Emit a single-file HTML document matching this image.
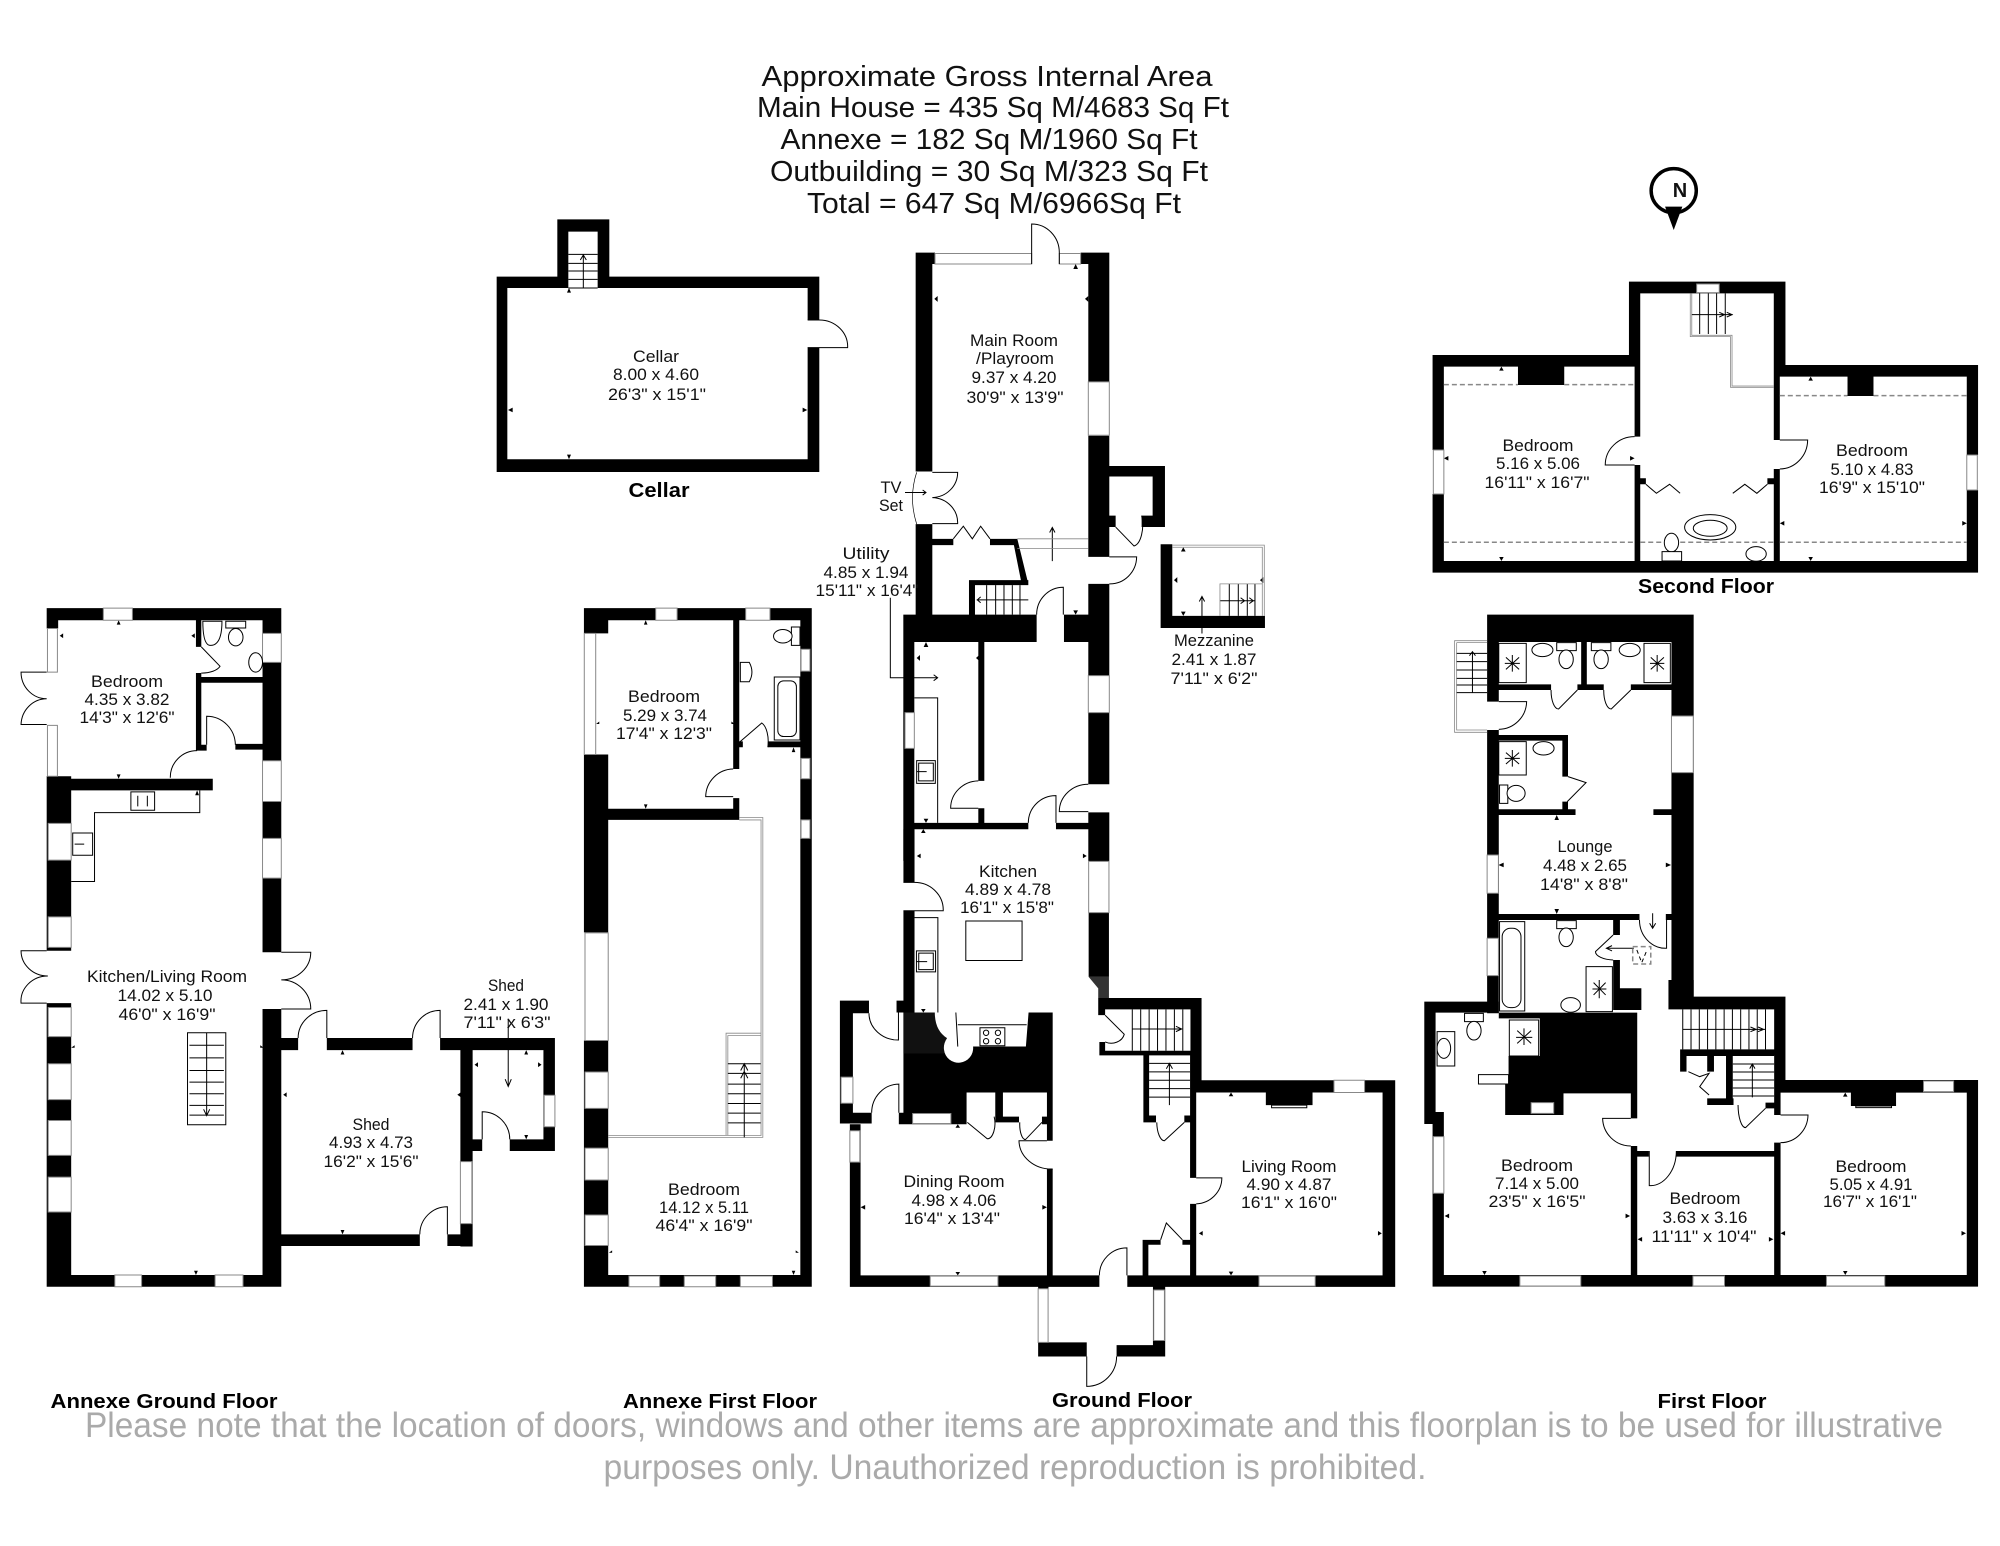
<!DOCTYPE html>
<html><head><meta charset="utf-8"><style>
html,body{margin:0;padding:0;background:#fff}
svg{display:block}
.k{fill:#000}
.w{fill:#fff;stroke:#888;stroke-width:1;vector-effect:non-scaling-stroke}
.l{fill:none;stroke:#000;stroke-width:1;vector-effect:non-scaling-stroke}
.g{fill:none;stroke:#888;stroke-width:.8;vector-effect:non-scaling-stroke}
.d{fill:none;stroke:#888;stroke-width:1.5;stroke-dasharray:5 3;vector-effect:non-scaling-stroke}
.f{fill:#fff;stroke:#000;stroke-width:1;vector-effect:non-scaling-stroke}
text{font-family:"Liberation Sans",sans-serif;text-anchor:middle;fill:#111;font-size:16.5px}
.h{font-size:29px}
.b{font-weight:bold;font-size:20px;fill:#000}
.n{font-size:35px;fill:#aaa}
</style></head><body>
<svg width="2000" height="1546" viewBox="0 0 2000 1546" xmlns="http://www.w3.org/2000/svg">
<rect width="2000" height="1546" fill="#fff"/>

<!-- Annexe ground floor -->
<g transform="translate(0 580) scale(.3827 .4847)">
<path class="k" d="M122 58H735V83H122ZM122 58H152V100H122ZM122 405H186V765H122ZM122 873H186V1458H122ZM122 1434H735V1458H122ZM686 58H735V768H686ZM686 885H735V1458H686ZM122 410H556V434H122ZM512 83H526V138H512ZM512 192H526V352H512ZM526 200H686V212H526ZM512 340H540V352H512ZM615 338H686V350H615ZM735 945H779V970H735ZM854 945H1078V970H854ZM1150 945H1450V970H1150ZM1203 970H1235V1375H1203ZM690 1350H1097V1374H690ZM1169 1350H1235V1374H1169ZM1420 970H1450V1178H1420ZM1332 1154H1450V1178H1332ZM1203 1154H1260V1178H1203Z"/>
<path class="k" d="M310 83l-5 9h10zM156 115l9-5v10zM500 115l9 5v-10zM310 410l-5-9h10zM515 434l-5 10h10zM195 965l-9 0 9-5zM680 965l9 0-9-5zM740 1062l9-5v10zM895 970l-5 9h10zM1195 1062l9-5v10zM895 1350l-5-9h10zM512 1434l-5-9h10zM1375 970l-5 9h10zM1375 1154l-5-9h10zM1240 1000l9-5v10zM1415 1000l-9-5v10z"/>
<path class="w" d="M270 58h76v25h-76zM124 100h26v90h-26zM124 300h26v105h-26zM126 502h60v76h-60zM126 695h60v63h-60zM686 110h49v60h-49zM686 373h49v84h-49zM686 533h49v82h-49zM126 882h60v60h-60zM126 998h60v74h-60zM126 1115h60v72h-60zM126 1232h60v72h-60zM300 1434h70v24h-70zM562 1434h73v24h-73zM1203 1200h30v128h-30zM1422 1063h28v65h-28z"/>
<path class="l" d="M122 190H55A67 55 0 0 0 122 245A67 55 0 0 0 55 298H122M122 765H55A70 52 0 0 0 125 817A70 52 0 0 0 55 873H122M735 768H812A77 57 0 0 1 735 825A77 60 0 0 1 812 885H735M854 945V888A75 57 0 0 0 779 945M1150 945V888A72 57 0 0 0 1078 945M1169 1350V1293A72 57 0 0 0 1097 1350M1260 1154V1097A72 57 0 0 1 1332 1154M515 352A70 55 0 0 0 445 408M540 340V281A75 60 0 0 1 615 340M526 138L575 178A50 20 0 0 1 526 192M186 622H247V480H522V434"/>
<path class="f" d="M342 437h62v38h-62zM190 522h52v46h-52zM490 934h100v190h-100zM590 85h52v14h-52zM530 85l50 0q0 50-30 50-20 0-20-50z"/>
<ellipse class="f" cx="616" cy="118" rx="19" ry="18"/>
<ellipse class="f" cx="668" cy="170" rx="18" ry="20"/>
<path class="l" d="M495 960H585M495 986H585M495 1012H585M495 1036H585M495 1060H585M495 1084H585M495 1104H585M540 934V1105M532 1092L540 1105L548 1092M1328 905V1045M1320 1030L1328 1045L1336 1030M360 445v22M385 445v22M195 545H220"/>
</g>

<!-- Annexe first floor -->
<g transform="translate(560 580) scale(.3571 .4847)">
<path class="k" d="M67 58H705V83H67ZM67 58H135V110H67ZM67 360H135V727H67ZM67 950H135V1458H67ZM67 1434H705V1458H67ZM673 58H705V1458H673ZM485 83H502V390H485ZM485 450H502V495H485ZM67 472H502V495H67ZM582 333H673V345H582ZM485 333H512V345H485Z"/>
<path class="k" d="M240 83l-5 9h10zM240 472l-5-9h10zM110 297l-9 0 9-5zM480 297l9 0-9-5zM146 1388l-9 0 9-5zM660 1388l9 0-9-5zM654 1434l-5-9h10zM654 345l-5 10h10z"/>
<path class="w" d="M268 58h60v25h-60zM520 58h68v25h-68zM68 110h32v250h-32zM70 728h65v222h-65zM70 1015h65v75h-65zM70 1172h65v66h-65zM70 1310h65v63h-65zM193 1436h86v22h-86zM348 1436h88v22h-88zM505 1436h90v22h-90zM675 143h25v45h-25zM675 368h25v42h-25zM675 495h25v38h-25z"/>
<path class="l" d="M485 390A78 58 0 0 0 408 447H485M502 335L565 295A25 40 0 0 1 582 345"/>
<path class="g" d="M502 490H568V1150H135M502 495H563V1146H135M465 1145V935H562M470 1145V940H562"/>
<path class="l" d="M470 998H562M470 1018H562M470 1040H562M470 1060H562M470 1080H562M470 1100H562M470 1120H562M516 1150V998M506 1012L516 998L526 1012M506 1028L516 1014L526 1028"/>
<path class="f" d="M600 200h72v130h-72z"/>
<rect class="f" x="610" y="208" width="52" height="115" rx="16" ry="12"/>
<path class="f" d="M648 97h24v38h-24z"/>
<ellipse class="f" cx="624" cy="116" rx="26" ry="14"/>
<path class="f" d="M505 170h25q15 20 0 40h-25z"/>
</g>

<!-- Ground floor upper -->
<g transform="translate(820 200) scale(.3333 .4209)">
<path class="k" d="M287 125H345V152H287ZM287 125H337V645H287ZM287 770H337V985H287ZM782 125H868V152H782ZM805 125H868V432H805ZM805 560H868V848H805ZM805 912H868V1130H805ZM805 1218H868V1388H805ZM805 1455H868V1570H805ZM250 985H650V1050H250ZM732 985H868V1050H732ZM250 1050H283V1570H250ZM475 1050H493V1380H475ZM475 1445H493V1480H475ZM250 1480H625V1495H250ZM708 1480H868V1495H708ZM337 805H400V820H337ZM510 805H590V820H510ZM578 805H592L625 912H605ZM447 903H625V915H447ZM447 903H465V985H447ZM805 632H1035V657H805ZM998 657H1035V777H998ZM965 750H1035V777H965ZM805 750H887V777H805ZM1022 818H1057V1017H1022ZM1022 988H1335V1017H1022Z"/>
<path class="k" d="M767 152l-7 12h14zM343 235l10-7v14zM795 235l10-7v14zM767 985l-7-10h14zM318 1050l-7 12h14zM290 1088l10-7v14zM468 1088l10-7v14zM318 1480l-7-10h14zM1090 825l-7 10h14zM1090 988l-7-10h14zM1062 903l10-7v14zM1320 903l10-7v14z"/>
<path class="w" d="M345 127h290v25h-290zM718 127h64v25h-64zM805 432h63v127h-63zM805 1130h63v88h-63zM255 1218h28v85h-28z"/>
<path class="l" d="M635 152V57A83 68 0 0 1 718 125V152M337 647H413A78 60 0 0 1 337 707A78 60 0 0 1 413 769H337M400 805L430 775L457 805L482 775L510 805M887 777L942 822A30 50 0 0 0 965 750M868 848H950A80 65 0 0 1 868 912M650 985A80 65 0 0 1 730 920V985M475 1380A85 65 0 0 0 392 1445H475M805 1388A87 65 0 0 0 718 1453H805M708 1480V1415A82 65 0 0 0 625 1480M697 858V778M689 790L697 778L705 790M255 695H318M308 689L318 695L308 701M211 945V1135H353M341 1128L353 1135L341 1142M283 1183H353V1480M500 915V985M527 915V985M552 915V985M577 915V985M600 915V985M470 950H625M482 943L472 950L482 957M1146 1030V942M1138 954L1146 942L1154 954M1228 912V988M1255 912V988M1282 912V988M1305 912V988M1200 952H1305M1262 945L1274 952L1262 959M1288 945L1300 952L1288 959"/>
<path d="M290 647Q265 708 290 770" fill="none" stroke="#000" stroke-width="2"/>
<path class="g" d="M592 805H805M592 828H805M1057 820H1333V988M1057 825H1327V988M1200 988V912H1328"/>
<path class="f" d="M290 1332h56v54h-56z"/>
<path class="l" d="M296 1338h44v42h-44zM290 1358H320"/>
</g>

<!-- Ground floor lower -->
<g transform="translate(820 820) scale(.3827)">
<path class="k" d="M218 24H247V163H218ZM218 237H247V475H218ZM702 0H755V108H702ZM702 242H755V410H702ZM727 465H997V495H727ZM727 465H745V510H727ZM968 465H997V680H968ZM730 603H968V615H730ZM730 580H745V615H730ZM845 615H860V785H845ZM845 772H878V790H845ZM952 772H983V790H952ZM967 615H983V935H967ZM967 1003H983V1190H967ZM968 680H1503V712H968ZM1470 680H1503V1220H1470ZM803 1190H1503V1220H803ZM78 1190H730V1220H78ZM78 795H106V1220H78ZM593 912H608V1190H593ZM593 712H608V838H593ZM218 503H300L355 503L360 592H538L545 503H608V712H218ZM218 712H383V795H206V765H218ZM458 712H478V790H458ZM458 775H520V790H458ZM580 775H608V795H580ZM52 472H128V505H52ZM52 472H86V790H52ZM52 765H135V793H52ZM200 472H247V503H200ZM843 1097H890V1110H858V1190H843ZM947 1097H983V1110H947ZM1165 712H1287V745H1165ZM570 1220H597V1402H570ZM570 1365H697V1402H570ZM775 1372H902V1402H775ZM870 1220H902V1402H870Z"/>
<path d="M702 410H755V465H727V440Z" fill="#333"/>
<path d="M218 503H300L340 570L330 610H218Z" fill="#111"/>
<path class="k" d="M270 503l-6-9h12zM360 795l-6 9h12zM106 1012l12-6v12zM593 1012l-12-6v12zM360 1190l-6-9h12zM1074 712l-6 10h12zM1074 1190l-6-10h12zM990 1080l10-6v12zM1468 1080l-10-6v12zM270 24l-6 10h12zM253 94l10-6v12zM697 94l-10-6v12z"/>
<path fill="#fff" d="M300 503H355L360 592H400A38 38 0 0 1 324 600Q322 585 332 570Q300 550 300 503Z"/>
<path class="w" d="M78 812h26v82h-26zM55 672h31v68h-31zM242 767h100v26h-100zM288 1192h177v26h-177zM1147 1192h147v26h-147zM1343 680h80v32h-80zM702 108h53v134h-53zM570 1225h26v140h-26zM872 1228h28v132h-28z"/>
<path class="l" d="M218 163H247A75 72 0 0 1 322 237H218M128 505A77 70 0 0 0 205 575V503M206 765V690A72 75 0 0 0 135 765M593 838H520A85 75 0 0 0 608 912H593M385 790L437 833A20 40 0 0 0 455 775M522 790A15 40 0 0 0 537 835L580 790M983 935H1050A70 68 0 0 1 983 1003M730 1190A72 72 0 0 1 802 1118V1190M890 1097L905 1053L947 1097M880 790A20 50 0 0 0 900 838L952 790M745 510L795 560A35 30 0 0 1 745 580M697 1402V1480A78 78 0 0 0 775 1402M247 255H308V503M355 503L360 592M360 535H540"/>
<path class="l" d="M816 495V603M838 495V603M860 495V603M882 495V603M904 495V603M926 495V603M948 495V603M816 546H945M930 539L945 546L930 553M860 636H967M860 658H967M860 680H967M860 702H967M860 724H967M913 745V636M905 650L913 636L921 650"/>
<path class="f" d="M381 264h147v103h-147zM252 342h50v55h-50zM418 543h65v47h-65z"/>
<path class="l" d="M258 348h38v43h-38zM252 370H280"/>
<circle class="l" cx="434" cy="556" r="7"/><circle class="l" cx="465" cy="556" r="7"/><circle class="l" cx="434" cy="578" r="7"/><circle class="l" cx="465" cy="578" r="7"/>
<path class="f" d="M1180 745h92v7h-92z"/>
</g>

<!-- First floor upper -->
<g transform="translate(1410 600) scale(.3762 .3333)">
<path class="k" d="M205 44H754V126H205ZM205 126H236V305H205ZM205 390H236V1240H205ZM695 126H754V1190H695ZM205 253H375V270H205ZM445 253H515V270H445ZM587 253H754V270H587ZM455 126H470V253H455ZM205 405H420V422H205ZM405 422H420V530H405ZM405 605H420V630H405ZM205 628H440V645H205ZM647 628H695V645H647ZM205 942H610V960H205ZM680 942H695V960H680ZM540 960H558V1005H540ZM540 1080H558V1170H540ZM540 1165H615V1230H540Z"/>
<path class="k" d="M390 645l-6 15h12zM390 942l-6-15h12zM235 795l14-7v14zM694 795l-14-7v14z"/>
<path class="w" d="M695 348h58v170h-58zM205 765h30v115h-30zM205 1015h30v112h-30z"/>
<path class="g" d="M118 122H205M118 397H205M118 122V397M124 128V390H205M124 128H205"/>
<path class="l" d="M124 160H205M124 185H205M124 210H205M124 235H205M124 255H205M124 278H205M166 278V155M158 167L166 155L174 167M236 305H310A75 85 0 0 1 236 388M375 270A20 55 0 0 0 395 327L445 270M515 270A20 55 0 0 0 535 327L587 270M420 530L468 548L418 605M610 960A70 85 0 0 0 682 1045V960M540 1005L493 1055A50 25 0 0 0 540 1080M645 985V940M637 970L645 985L653 970M525 1045H595M537 1037L522 1045L537 1053"/>
<path class="f" d="M236 130h73v118h-73zM622 130h70v118h-70zM236 425h73v100h-73zM468 1100h70v135h-70zM238 965h67v268h-67z"/>
<path class="l" d="M252 190L292 190M272 165V215M255 172L290 208M290 172L255 208M638 190L676 190M657 165V215M640 172L675 208M675 172L640 208M252 475H292M272 450V500M255 458L290 492M290 458L255 492M485 1167H522M503 1140V1195M488 1148L520 1185M520 1148L488 1185"/>
<rect class="l" x="245" y="985" width="50" height="238" rx="22" ry="25"/>
<path class="f" d="M390 128h52v24h-52zM482 128h52v24h-52zM390 962h52v24h-52zM238 555h22v55h-22z"/>
<ellipse class="f" cx="415" cy="178" rx="19" ry="28"/>
<ellipse class="f" cx="508" cy="178" rx="19" ry="28"/>
<ellipse class="f" cx="352" cy="150" rx="28" ry="20"/>
<ellipse class="f" cx="584" cy="150" rx="28" ry="20"/>
<ellipse class="f" cx="355" cy="445" rx="28" ry="20"/>
<ellipse class="f" cx="415" cy="1012" rx="19" ry="28"/>
<ellipse class="f" cx="282" cy="580" rx="24" ry="24"/>
<ellipse class="f" cx="427" cy="1215" rx="26" ry="22"/>
<path class="d" d="M592 1040H640V1092H592Z"/>
<path class="l" d="M603 1050L616 1088L630 1050" stroke-dasharray="4 3"/>
</g>

<!-- First floor lower -->
<g transform="translate(1410 980) scale(.3762 .3333)">
<path class="k" d="M38 65H236V98H38ZM38 65H68V430H38ZM38 396H90V432H38ZM60 430H90V920H60ZM60 885H1510V920H60ZM1480 300H1510V920H1480ZM968 300H1510V338H968ZM1172 338H1292V378H1172ZM687 50H998V88H687ZM687 0H754V50H687ZM968 88H998V300H968ZM718 208H968V228H718ZM718 228H735V275H718ZM790 228H808V275H790ZM790 355H860V375H790ZM840 228H858V375H840ZM945 368H985V385H945ZM968 338H985V405H968ZM968 488H985V885H968ZM587 498H604V885H587ZM604 513H635V530H604ZM708 513H968V530H708ZM236 98H604V115H236ZM345 115H604V228H345ZM262 228H604V310H262ZM253 310H604V340H253ZM253 340H408V405H253ZM587 340H604V415H587Z"/>
<path class="k" d="M198 885l-6-12h12zM1157 885l-6-12h12zM1157 338l-6 12h12zM92 708l12-7v14zM585 708l-12-7v14zM605 778l12-7v14zM966 778l-12-7v14zM985 760l12-7v14zM1478 760l-12-7v14z"/>
<path class="w" d="M62 470h28v170h-28zM322 368h60v32h-60zM292 888h162v30h-162zM752 888h84v30h-84zM1107 888h155v30h-155zM1365 303h80v32h-80z"/>
<path class="l" d="M587 415H512A75 85 0 0 0 587 498M985 405H1058A73 85 0 0 1 985 488M708 513A70 105 0 0 1 636 617V513M872 375A20 70 0 0 0 892 443L945 385M740 275L770 290L795 280L770 320L795 345"/>
<path class="l" d="M725 88V208M747 88V208M769 88V208M791 88V208M813 88V208M835 88V208M857 88V208M879 88V208M901 88V208M923 88V208M945 88V208M725 148H945M905 141L920 148L905 155M925 141L940 148L925 155M858 252H968M858 276H968M858 300H968M858 324H968M858 348H968M910 352V252M903 266L910 252L917 266"/>
<path class="f" d="M264 120h78v108h-78zM72 155h47v103h-47zM182 284h80v28h-80zM145 100h50v25h-50z"/>
<path class="l" d="M282 172H325M303 145V195M285 152L322 190M322 152L285 190"/>
<ellipse class="f" cx="170" cy="152" rx="19" ry="28"/>
<ellipse class="f" cx="90" cy="205" rx="18" ry="30"/>
<path class="f" d="M1185 378h95v5h-95z"/>
</g>

<!-- Second floor -->
<g transform="translate(1410 150) scale(.3762 .3333)">
<path class="k" d="M582 395H998V430H582ZM582 395H612V615H582ZM597 615H612V860H597ZM597 945H612V1235H597ZM967 395H998V645H967ZM967 645H983V870H967ZM967 957H983V1235H967ZM60 615H612V650H60ZM60 615H90V900H60ZM60 1032H90V1268H60ZM60 1233H1510V1268H60ZM967 645H1510V680H967ZM1480 645H1510V915H1480ZM1480 1020H1510V1268H1480ZM287 650H410V705H287ZM1163 680H1232V738H1163ZM605 985H627V1003H605ZM950 985H972V1003H950Z"/>
<path class="k" d="M243 650l-6 12h12zM243 1233l-6-12h12zM1065 680l-6 12h12zM1065 1233l-6-12h12zM90 925l12-7v14zM597 925l-12-7v14zM983 1120l12-7v14zM1480 1120l-12-7v14z"/>
<path class="w" d="M62 900h28v132h-28zM1480 915h28v105h-28zM762 402h60v26h-60z"/>
<path class="d" d="M90 704H287M410 704H597M983 737H1163M1232 737H1480M90 1177H597M612 1177H967M983 1177H1480"/>
<path class="g" d="M745 430V560H852V712H967M749 430V556H856V708H967"/>
<path class="l" d="M770 430V552M793 430V552M815 430V552M838 430V552M749 494H858M822 487L836 494L822 501M842 487L856 494L842 501M597 860A78 85 0 0 0 519 945H597M983 870H1057A75 88 0 0 1 983 957M627 1003L655 1030L690 1003L718 1030M950 1003L922 1030L890 1003L858 1030"/>
<ellipse class="l" cx="798" cy="1132" rx="68" ry="38"/>
<ellipse class="l" cx="798" cy="1135" rx="45" ry="24"/>
<ellipse class="f" cx="695" cy="1178" rx="19" ry="28"/>
<path class="f" d="M670 1205h52v28h-52z"/>
<ellipse class="f" cx="920" cy="1212" rx="27" ry="22"/>
<ellipse cx="701" cy="122" rx="60" ry="66" fill="none" stroke="#000" stroke-width="3.5" vector-effect="non-scaling-stroke"/>
<path class="k" d="M678 170H724L701 240Z"/>
</g>

<!-- Cellar -->
<g transform="translate(480 200) scale(.3333)">
<path class="k" d="M232 58H388V95H232ZM232 95H265V230H232ZM353 95H388V230H353ZM50 230H265V264H50ZM353 230H1018V264H353ZM50 264H82V816H50ZM50 778H1018V816H50ZM983 264H1018V360H983ZM983 443H1018V778H983Z"/>
<path class="k" d="M267 264l-6 14h12zM267 778l-6-14h12zM84 630l14-7v14zM982 630l-14-7v14z"/>
<path class="l" d="M983 360H1018A85 80 0 0 1 1103 443H983M265 163H353M265 190H353M265 213H353M265 238H353M265 264H353M310 264V165M301 180L310 165L319 180"/>
</g>

<!-- Headings -->
<text class="h" x="987" y="86" textLength="451" lengthAdjust="spacingAndGlyphs">Approximate Gross Internal Area</text>
<text class="h" x="993" y="117" textLength="472" lengthAdjust="spacingAndGlyphs">Main House = 435 Sq M/4683 Sq Ft</text>
<text class="h" x="989" y="149" textLength="417" lengthAdjust="spacingAndGlyphs">Annexe = 182 Sq M/1960 Sq Ft</text>
<text class="h" x="989" y="181" textLength="438" lengthAdjust="spacingAndGlyphs">Outbuilding = 30 Sq M/323 Sq Ft</text>
<text class="h" x="994" y="213" textLength="374" lengthAdjust="spacingAndGlyphs">Total = 647 Sq M/6966Sq Ft</text>
<text x="1680" y="197" style="font-size:20px;font-weight:bold">N</text>

<!-- Floor labels -->
<text class="b" x="164" y="1408" textLength="227" lengthAdjust="spacingAndGlyphs">Annexe Ground Floor</text>
<text class="b" x="720" y="1408" textLength="194" lengthAdjust="spacingAndGlyphs">Annexe First Floor</text>
<text class="b" x="1122" y="1407" textLength="140" lengthAdjust="spacingAndGlyphs">Ground Floor</text>
<text class="b" x="1712" y="1408" textLength="109" lengthAdjust="spacingAndGlyphs">First Floor</text>
<text class="b" x="659" y="497" textLength="61" lengthAdjust="spacingAndGlyphs">Cellar</text>
<text class="b" x="1706" y="593" textLength="136" lengthAdjust="spacingAndGlyphs">Second Floor</text>

<!-- Room labels -->
<g>
<text x="127" y="687" textLength="72" lengthAdjust="spacingAndGlyphs">Bedroom</text>
<text x="127" y="705" textLength="85" lengthAdjust="spacingAndGlyphs">4.35 x 3.82</text>
<text x="127" y="723" textLength="95" lengthAdjust="spacingAndGlyphs">14'3" x 12'6"</text>
<text x="167" y="982" textLength="160" lengthAdjust="spacingAndGlyphs">Kitchen/Living Room</text>
<text x="165" y="1001" textLength="95" lengthAdjust="spacingAndGlyphs">14.02 x 5.10</text>
<text x="167" y="1020" textLength="97" lengthAdjust="spacingAndGlyphs">46'0" x 16'9"</text>
<text x="506" y="991" textLength="36" lengthAdjust="spacingAndGlyphs">Shed</text>
<text x="506" y="1010" textLength="85" lengthAdjust="spacingAndGlyphs">2.41 x 1.90</text>
<text x="507" y="1028" textLength="87" lengthAdjust="spacingAndGlyphs">7'11" x 6'3"</text>
<text x="371" y="1130" textLength="37" lengthAdjust="spacingAndGlyphs">Shed</text>
<text x="371" y="1148" textLength="84" lengthAdjust="spacingAndGlyphs">4.93 x 4.73</text>
<text x="371" y="1167" textLength="95" lengthAdjust="spacingAndGlyphs">16'2" x 15'6"</text>
<text x="664" y="702" textLength="72" lengthAdjust="spacingAndGlyphs">Bedroom</text>
<text x="665" y="721" textLength="84" lengthAdjust="spacingAndGlyphs">5.29 x 3.74</text>
<text x="664" y="739" textLength="96" lengthAdjust="spacingAndGlyphs">17'4" x 12'3"</text>
<text x="704" y="1195" textLength="72" lengthAdjust="spacingAndGlyphs">Bedroom</text>
<text x="704" y="1213" textLength="90" lengthAdjust="spacingAndGlyphs">14.12 x 5.11</text>
<text x="704" y="1231" textLength="97" lengthAdjust="spacingAndGlyphs">46'4" x 16'9"</text>
<text x="1014" y="346" textLength="88" lengthAdjust="spacingAndGlyphs">Main Room</text>
<text x="1015" y="364" textLength="78" lengthAdjust="spacingAndGlyphs">/Playroom</text>
<text x="1014" y="383" textLength="85" lengthAdjust="spacingAndGlyphs">9.37 x 4.20</text>
<text x="1015" y="403" textLength="97" lengthAdjust="spacingAndGlyphs">30'9" x 13'9"</text>
<text x="891" y="493" textLength="21" lengthAdjust="spacingAndGlyphs">TV</text>
<text x="891" y="511" textLength="24" lengthAdjust="spacingAndGlyphs">Set</text>
<text x="866" y="559" textLength="47" lengthAdjust="spacingAndGlyphs">Utility</text>
<text x="866" y="578" textLength="85" lengthAdjust="spacingAndGlyphs">4.85 x 1.94</text>
<text x="867" y="596" textLength="103" lengthAdjust="spacingAndGlyphs">15'11" x 16'4"</text>
<text x="1214" y="646" textLength="80" lengthAdjust="spacingAndGlyphs">Mezzanine</text>
<text x="1214" y="665" textLength="85" lengthAdjust="spacingAndGlyphs">2.41 x 1.87</text>
<text x="1214" y="684" textLength="87" lengthAdjust="spacingAndGlyphs">7'11" x 6'2"</text>
<text x="1008" y="877" textLength="58" lengthAdjust="spacingAndGlyphs">Kitchen</text>
<text x="1008" y="895" textLength="86" lengthAdjust="spacingAndGlyphs">4.89 x 4.78</text>
<text x="1007" y="913" textLength="94" lengthAdjust="spacingAndGlyphs">16'1" x 15'8"</text>
<text x="954" y="1187" textLength="101" lengthAdjust="spacingAndGlyphs">Dining Room</text>
<text x="954" y="1206" textLength="85" lengthAdjust="spacingAndGlyphs">4.98 x 4.06</text>
<text x="952" y="1224" textLength="96" lengthAdjust="spacingAndGlyphs">16'4" x 13'4"</text>
<text x="1289" y="1172" textLength="95" lengthAdjust="spacingAndGlyphs">Living Room</text>
<text x="1289" y="1190" textLength="85" lengthAdjust="spacingAndGlyphs">4.90 x 4.87</text>
<text x="1289" y="1208" textLength="96" lengthAdjust="spacingAndGlyphs">16'1" x 16'0"</text>
<text x="1585" y="852" textLength="55" lengthAdjust="spacingAndGlyphs">Lounge</text>
<text x="1585" y="871" textLength="84" lengthAdjust="spacingAndGlyphs">4.48 x 2.65</text>
<text x="1584" y="890" textLength="88" lengthAdjust="spacingAndGlyphs">14'8" x 8'8"</text>
<text x="1537" y="1171" textLength="72" lengthAdjust="spacingAndGlyphs">Bedroom</text>
<text x="1537" y="1189" textLength="84" lengthAdjust="spacingAndGlyphs">7.14 x 5.00</text>
<text x="1537" y="1207" textLength="97" lengthAdjust="spacingAndGlyphs">23'5" x 16'5"</text>
<text x="1705" y="1204" textLength="71" lengthAdjust="spacingAndGlyphs">Bedroom</text>
<text x="1705" y="1223" textLength="85" lengthAdjust="spacingAndGlyphs">3.63 x 3.16</text>
<text x="1704" y="1242" textLength="105" lengthAdjust="spacingAndGlyphs">11'11" x 10'4"</text>
<text x="1871" y="1172" textLength="71" lengthAdjust="spacingAndGlyphs">Bedroom</text>
<text x="1871" y="1190" textLength="83" lengthAdjust="spacingAndGlyphs">5.05 x 4.91</text>
<text x="1870" y="1207" textLength="94" lengthAdjust="spacingAndGlyphs">16'7" x 16'1"</text>
<text x="1538" y="451" textLength="71" lengthAdjust="spacingAndGlyphs">Bedroom</text>
<text x="1538" y="469" textLength="84" lengthAdjust="spacingAndGlyphs">5.16 x 5.06</text>
<text x="1537" y="488" textLength="105" lengthAdjust="spacingAndGlyphs">16'11" x 16'7"</text>
<text x="1872" y="456" textLength="72" lengthAdjust="spacingAndGlyphs">Bedroom</text>
<text x="1872" y="475" textLength="83" lengthAdjust="spacingAndGlyphs">5.10 x 4.83</text>
<text x="1872" y="493" textLength="106" lengthAdjust="spacingAndGlyphs">16'9" x 15'10"</text>
<text x="656" y="362" textLength="46" lengthAdjust="spacingAndGlyphs">Cellar</text>
<text x="656" y="380" textLength="86" lengthAdjust="spacingAndGlyphs">8.00 x 4.60</text>
<text x="657" y="400" textLength="98" lengthAdjust="spacingAndGlyphs">26'3" x 15'1"</text>
</g>

<!-- Footer -->
<text class="n" x="1014" y="1437" textLength="1858" lengthAdjust="spacingAndGlyphs">Please note that the location of doors, windows and other items are approximate and this floorplan is to be used for illustrative</text>
<text class="n" x="1015" y="1479" textLength="823" lengthAdjust="spacingAndGlyphs">purposes only. Unauthorized reproduction is prohibited.</text>
</svg>
</body></html>
